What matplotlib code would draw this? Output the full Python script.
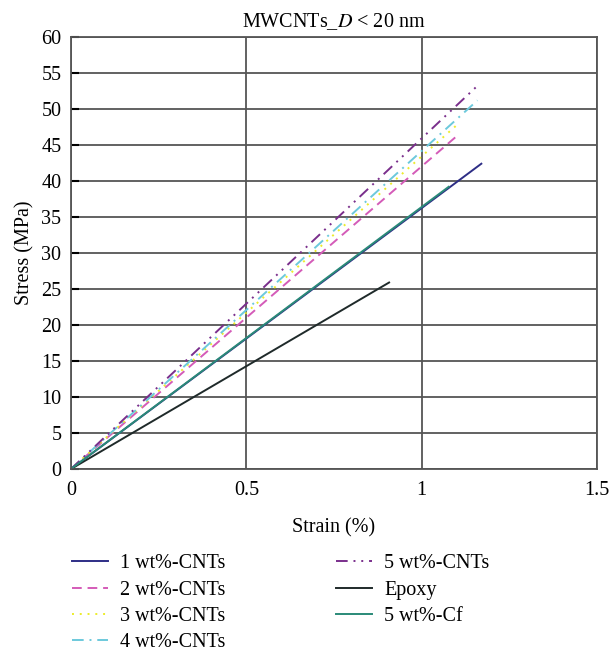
import matplotlib
matplotlib.use("Agg")
import matplotlib.pyplot as plt

plt.rcParams['font.family'] = ['Liberation Serif', 'DejaVu Serif']
plt.rcParams['mathtext.fontset'] = 'stix'

# Stress-strain curves (start, end)
labels = ["1 wt%-CNTs", "2 wt%-CNTs", "3 wt%-CNTs", "4 wt%-CNTs",
          "5 wt%-CNTs", "Epoxy", "5 wt%-Cf"]
strain = [
    [0, 1.170],
    [0, 1.099],
    [0, 1.103],
    [0, 1.159],
    [0, 1.154],
    [0, 0.907],
    [0, 1.077],
]
stress = [
    [0, 42.4],
    [0, 46.2],
    [0, 47.9],
    [0, 51.2],
    [0, 53.0],
    [0, 25.9],
    [0, 39.2],
]

colors = ["#2e2e86", "#d45bb8", "#ecec2a", "#6cc9dc", "#7a2f8c", "#1f2a2a", "#2a8a78"]
styles = ["-", (0, (5, 3)), (0, (1, 3)), (0, (6, 3, 1, 3)),
          (0, (6, 3, 1, 3, 1, 3)), "-", "-"]

fs = 14.5

fig = plt.figure(figsize=(6.11, 6.55), dpi=100)
ax = fig.add_axes([0.1162, 0.284, 0.861, 0.6595])

for xs, ys, c, ls, lab in zip(strain, stress, colors, styles, labels):
    ax.plot(xs, ys, color=c, linestyle=ls, linewidth=1.4, label=lab)

ax.set_xlim(0, 1.5)
ax.set_ylim(0, 60)
ax.set_xticks([0, 0.5, 1, 1.5])
ax.set_xticklabels(["0", "0.5", "1", "1.5"])
ax.set_yticks(range(0, 61, 5))

ax.grid(True, color="#555555", linewidth=1.3)
ax.set_axisbelow(True)
for s in ax.spines.values():
    s.set_color("#555555")
    s.set_linewidth(1.3)

ax.tick_params(axis="y", direction="in", length=6, width=1.5, pad=7, labelsize=fs)
ax.tick_params(axis="x", length=0, pad=9, labelsize=fs)

ax.set_xlabel("Strain (%)", fontsize=fs, labelpad=13)
ax.set_ylabel("Stress (MPa)", fontsize=fs, labelpad=5)
ax.set_title(r"MWCNTs_$D$ < 20 nm", fontsize=fs, pad=7)

fig.legend(loc="upper left", bbox_to_anchor=(0.104, 0.166), ncol=2, frameon=False,
           fontsize=fs, handlelength=1.8, handletextpad=0.6, columnspacing=5.5,
           labelspacing=0.36, borderaxespad=0)

fig.savefig("out.png", dpi=100)
